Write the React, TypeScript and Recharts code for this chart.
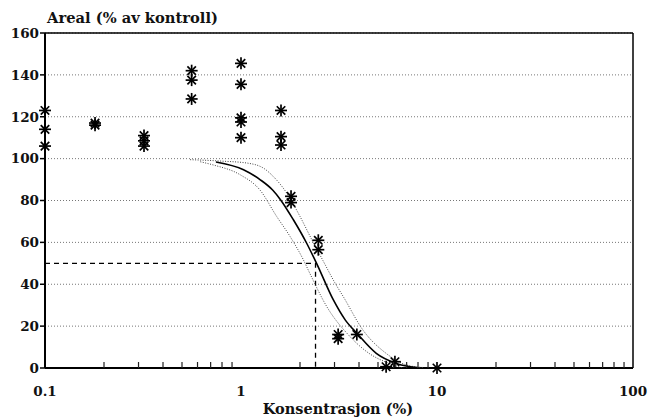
import React from 'react';
import {
  ComposedChart,
  Scatter,
  XAxis,
  YAxis,
  CartesianGrid,
  ReferenceLine,
} from 'recharts';

// Observed data: concentration (%) and area (% of control)
const obsX = [
  0.1, 0.1, 0.1,
  0.18, 0.18,
  0.32, 0.32, 0.32,
  0.56, 0.56, 0.56,
  1.0, 1.0, 1.0, 1.0, 1.0,
  1.6, 1.6, 1.6,
  1.8, 1.8,
  2.48, 2.48,
  3.13, 3.13,
  3.9,
  5.5,
  6.1,
  10,
];
const obsY = [
  123, 114, 106,
  117, 116,
  111, 108.5, 106,
  142, 137.5, 128.5,
  145.5, 135.5, 119.5, 117.5, 110,
  123, 110.5, 106.5,
  82, 79,
  61, 56.5,
  16, 14,
  16,
  0.6,
  3,
  0,
];

// Fitted dose-response curve
const fitX = [0.745, 1.03, 1.25, 1.45, 1.59, 1.85, 2.16, 2.43, 2.96, 3.4, 3.9, 4.9, 6.2, 7.9];
const fitY = [98.4, 94.7, 90, 85, 80.4, 70.8, 59.7, 50, 32.5, 23, 16.6, 7, 2.2, 0.2];

// Upper confidence curve
const upperX = [0.55, 0.8, 1.07, 1.3, 1.46, 1.71, 2.0, 2.3, 2.63, 3.0, 3.33, 4.2, 5.5, 7.0, 8.6];
const upperY = [99.5, 98.8, 97.9, 95.5, 91.5, 83.6, 72.4, 61.2, 51, 41, 34, 18, 7, 1.4, 0.2];

// Lower confidence curve
const lowerX = [0.62, 0.72, 0.99, 1.25, 1.52, 1.78, 2.08, 2.25, 2.74, 3.6, 4.5, 5.7, 6.6];
const lowerY = [98.5, 97, 92.3, 85, 72.4, 62.8, 51.7, 45, 29.3, 15, 7, 2.2, 0.2];

// EC50 guide
const ec50 = 2.4;
const ec50Level = 50;

const yTicks = [0, 20, 40, 60, 80, 100, 120, 140, 160];
const xMajorTicks = [0.1, 1, 10, 100];
const xMajorLabels = ['0.1', '1', '10', '100'];
const xMinorTicks = [
  0.2, 0.3, 0.4, 0.5, 0.6, 0.7, 0.8, 0.9,
  2, 3, 4, 5, 6, 7, 8, 9,
  20, 30, 40, 50, 60, 70, 80, 90,
];

const yTitle = 'Areal (% av kontroll)';
const xTitle = 'Konsentrasjon (%)';

const zip = (xs: number[], ys: number[]) => xs.map((x, i) => ({ x, y: ys[i] }));

const observed = zip(obsX, obsY);
const fit = zip(fitX, fitY);
const upper = zip(upperX, upperY);
const lower = zip(lowerX, lowerY);
const ec50Path = [
  { x: 0.1, y: ec50Level },
  { x: ec50, y: ec50Level },
  { x: ec50, y: 0 },
];

const FONT = '"DejaVu Serif", serif';

const Asterisk = (props: any) => {
  const { cx, cy } = props;
  if (cx == null || cy == null) return <g />;
  const r = 6;
  const d = r * 0.7071;
  return (
    <g stroke="#000" strokeWidth={1.7}>
      <line x1={cx - r} y1={cy} x2={cx + r} y2={cy} />
      <line x1={cx} y1={cy - r} x2={cx} y2={cy + r} />
      <line x1={cx - d} y1={cy - d} x2={cx + d} y2={cy + d} />
      <line x1={cx - d} y1={cy + d} x2={cx + d} y2={cy - d} />
    </g>
  );
};

const NoShape = () => <g />;

const XTick = (props: any) => {
  const { x, y, payload } = props;
  const v = payload.value;
  const idx = xMajorTicks.findIndex((t) => Math.abs(t - v) < 1e-9);
  if (idx >= 0) {
    return (
      <text
        x={x}
        y={y + 28}
        textAnchor="middle"
        fontFamily={FONT}
        fontWeight="bold"
        fontSize={13.5}
        fill="#111"
      >
        {xMajorLabels[idx]}
      </text>
    );
  }
  return <line x1={x} y1={y} x2={x} y2={y - 6} stroke="#222" strokeWidth={1.2} />;
};

export default function App() {
  return (
    <div style={{ padding: '8px 0 0 8px', width: 642, height: 412 }}>
      <style>
        {'html{overflow:hidden} body{margin:0} svg.recharts-surface{overflow:visible} .recharts-wrapper{overflow:visible}'}
      </style>
      <div style={{ position: 'relative', width: 642, height: 412 }}>
        <ComposedChart
          width={642}
          height={412}
          margin={{ top: 25, right: 17, left: 0, bottom: 22 }}
        >
          <CartesianGrid
            vertical={false}
            stroke="#777"
            strokeDasharray="1 2"
            strokeWidth={1}
          />
          <XAxis
            dataKey="x"
            type="number"
            scale="log"
            domain={[0.1, 100]}
            ticks={[...xMajorTicks, ...xMinorTicks].sort((a, b) => a - b)}
            interval={0}
            height={30}
            tickSize={0}
            tickMargin={0}
            tickLine={false}
            axisLine={{ stroke: '#000', strokeWidth: 2 }}
            tick={<XTick />}
          />
          <YAxis
            dataKey="y"
            type="number"
            domain={[0, 160]}
            ticks={yTicks}
            interval={0}
            width={37}
            tickSize={5}
            tickMargin={1}
            tickLine={{ stroke: '#000', strokeWidth: 1.5 }}
            axisLine={{ stroke: '#000', strokeWidth: 2 }}
            tick={{ fontFamily: FONT, fontWeight: 'bold', fontSize: 13.5, fill: '#111' }}
          />
          <ReferenceLine y={160} stroke="#000" strokeWidth={1.5} />
          <ReferenceLine x={100} stroke="#000" strokeWidth={1.5} />
          <Scatter
            data={ec50Path}
            shape={NoShape}
            line={{ stroke: '#000', strokeWidth: 1.3, strokeDasharray: '5 4' }}
            lineJointType="linear"
            isAnimationActive={false}
          />
          <Scatter
            data={upper}
            shape={NoShape}
            line={{ stroke: '#444', strokeWidth: 1, strokeDasharray: '1 1.5' }}
            lineJointType="monotoneX"
            isAnimationActive={false}
          />
          <Scatter
            data={lower}
            shape={NoShape}
            line={{ stroke: '#444', strokeWidth: 1, strokeDasharray: '1 1.5' }}
            lineJointType="monotoneX"
            isAnimationActive={false}
          />
          <Scatter
            data={fit}
            shape={NoShape}
            line={{ stroke: '#000', strokeWidth: 1.6 }}
            lineJointType="monotoneX"
            isAnimationActive={false}
          />
          <Scatter data={observed} shape={Asterisk} isAnimationActive={false} />
        </ComposedChart>
        <div
          style={{
            position: 'absolute',
            left: 39,
            top: 2,
            fontFamily: FONT,
            fontWeight: 'bold',
            fontSize: 14.7,
            lineHeight: '16px',
            color: '#111',
            whiteSpace: 'nowrap',
          }}
        >
          {yTitle}
        </div>
        <div
          style={{
            position: 'absolute',
            left: 0,
            width: 660,
            top: 393,
            textAlign: 'center',
            fontFamily: FONT,
            fontWeight: 'bold',
            fontSize: 14.5,
            lineHeight: '16px',
            color: '#111',
            whiteSpace: 'nowrap',
          }}
        >
          {xTitle}
        </div>
      </div>
    </div>
  );
}
